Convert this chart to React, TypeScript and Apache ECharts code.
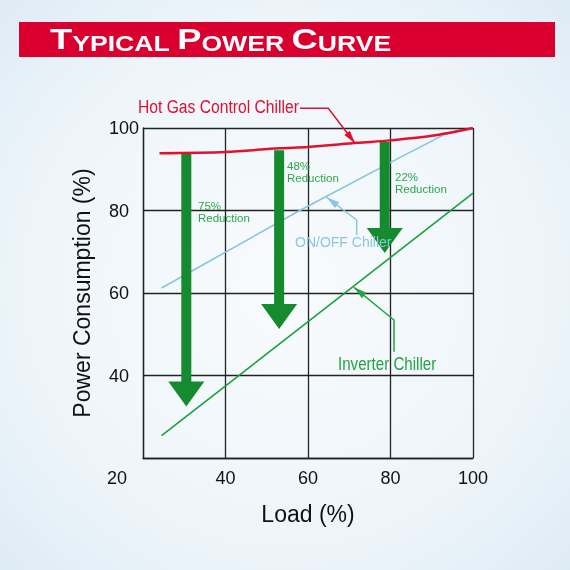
import { useEffect, useRef } from 'react';
import * as echarts from 'echarts';

// x: load (%), y: power consumption (%)
const loadTicks = [20, 40, 60, 80, 100];
const hotGasCurve = [
  [24, 93.9], [40, 94.2], [53, 95.1], [60, 95.4], [72, 96.4], [80, 97.0], [90, 98.1], [100, 100],
];
const onOffLine = [[24.5, 61.2], [58, 80], [82, 92.7], [93, 98.4]];
const onOffTail = [[93, 98.4], [100, 100]];
const inverterLine = [[24.5, 25.4], [100, 84.2]];
// reduction arrows: load, from (hot gas curve), to (tip)
const reductionArrows = [
  [30.5, 93.9, 32.5],
  [53, 94.6, 51.3],
  [78.6, 96.6, 69.7],
];
const reductionLabels = ['75%\nReduction', '48%\nReduction', '22%\nReduction'];

const FONT = "'Liberation Sans', Arial, sans-serif";
const GRID = { left: 143, top: 128, width: 330, height: 330 };

// small triangle at the end of a leader line
function arrowHead(pts: number[][], len: number, half: number) {
  const [x1, y1] = pts[pts.length - 2];
  const [x2, y2] = pts[pts.length - 1];
  const d = Math.hypot(x2 - x1, y2 - y1);
  const ux = (x2 - x1) / d;
  const uy = (y2 - y1) / d;
  const bx = x2 - ux * len;
  const by = y2 - uy * len;
  return [
    [x2, y2],
    [bx - uy * half, by + ux * half],
    [bx + uy * half, by - ux * half],
  ];
}

function leader(pts: number[][], color: string) {
  return [
    { type: 'polyline', shape: { points: pts }, style: { stroke: color, lineWidth: 1.5, fill: null }, z: 20 },
    { type: 'polygon', shape: { points: arrowHead(pts, 13, 3.5) }, style: { fill: color }, z: 20 },
  ];
}

export default function App() {
  const chartRef = useRef<HTMLDivElement>(null);

  useEffect(() => {
    if (!chartRef.current) return;
    const chart = echarts.init(chartRef.current, null, { renderer: 'svg' });

    const redLeader = [[300, 108.3], [328.3, 108.3], [355, 143.3]];
    const blueLeader = [[356.7, 235], [356.7, 220], [326.7, 197.3]];
    const greenLeader = [[394, 351.7], [394, 320], [354, 287.3]];
    const labelPos = [[198, 200], [287, 160], [395, 171]];

    const option: any = {
      animation: false,
      backgroundColor: new echarts.graphic.RadialGradient(0.5, 0.5, 0.75, [
        { offset: 0, color: '#f8fbfd' },
        { offset: 0.6, color: '#eef5fa' },
        { offset: 1, color: '#dbeaf5' },
      ]),
      grid: GRID,
      xAxis: {
        type: 'value',
        min: 20,
        max: 100,
        interval: 20,
        axisLine: { lineStyle: { color: '#222', width: 1.3 } },
        axisTick: { show: false },
        splitLine: { lineStyle: { color: '#222', width: 1.3 } },
        axisLabel: {
          margin: 11,
          fontSize: 18,
          color: '#111',
          fontFamily: FONT,
          formatter: (v: number) => (v === loadTicks[0] ? '{c|' + v + '}' : String(v)),
          rich: { c: { fontSize: 18, color: '#111', fontFamily: FONT, padding: [0, 52, 0, 0] } },
        },
        name: 'Load (%)',
        nameLocation: 'middle',
        nameGap: 44,
        nameTextStyle: { fontSize: 23, color: '#111', fontFamily: FONT },
      },
      yAxis: {
        type: 'value',
        min: 20,
        max: 100,
        interval: 20,
        axisLine: { lineStyle: { color: '#222', width: 1.3 } },
        axisTick: { show: false },
        splitLine: { lineStyle: { color: '#222', width: 1.3 } },
        axisLabel: {
          align: 'left',
          margin: 34,
          fontSize: 18,
          color: '#111',
          fontFamily: FONT,
          formatter: (v: number) => (v === 20 ? '' : String(v)),
        },
        name: 'Power Consumption (%)',
        nameLocation: 'middle',
        nameGap: 50,
        nameTextStyle: { fontSize: 23, color: '#111', fontFamily: FONT },
      },
      series: [
        {
          name: 'ON/OFF Chiller',
          type: 'line',
          data: onOffLine,
          showSymbol: false,
          lineStyle: { color: '#86c5dc', width: 1.6 },
          z: 2,
        },
        {
          name: 'tail',
          type: 'line',
          data: onOffTail,
          showSymbol: false,
          lineStyle: { color: '#7a8a94', width: 1.2 },
          z: 2,
        },
        {
          name: 'Reduction',
          type: 'custom',
          data: reductionArrows,
          encode: { x: 0, y: [1, 2] },
          clip: false,
          z: 3,
          renderItem: (_params: any, api: any) => {
            const top = api.coord([api.value(0), api.value(1)]);
            const tip = api.coord([api.value(0), api.value(2)]);
            const x = top[0];
            const sw = 5;
            const hw = 18;
            const hh = 25;
            return {
              type: 'polygon',
              shape: {
                points: [
                  [x - sw, top[1]], [x + sw, top[1]], [x + sw, tip[1] - hh], [x + hw, tip[1] - hh],
                  [x, tip[1]], [x - hw, tip[1] - hh], [x - sw, tip[1] - hh],
                ],
              },
              style: { fill: '#168a2f' },
            };
          },
        },
        {
          name: 'Inverter Chiller',
          type: 'line',
          data: inverterLine,
          showSymbol: false,
          lineStyle: { color: '#1c9f3d', width: 1.6 },
          z: 4,
        },
        {
          name: 'Hot Gas Control Chiller',
          type: 'line',
          data: hotGasCurve,
          smooth: 0.3,
          showSymbol: false,
          lineStyle: { color: '#e2122f', width: 2.5 },
          z: 5,
        },
      ],
      graphic: [
        // title banner
        { type: 'rect', shape: { x: 19, y: 22, width: 536, height: 35 }, style: { fill: '#d9002f' }, z: 10 },
        {
          type: 'text',
          x: 50,
          y: 54,
          scaleX: 1.21,
          z: 11,
          style: {
            text: '{b|T}{s|YPICAL }{b|P}{s|OWER }{b|C}{s|URVE}',
            textVerticalAlign: 'bottom',
            rich: {
              b: { fontSize: 30, fontWeight: 'bold', fill: '#fff', fontFamily: FONT, verticalAlign: 'bottom' },
              s: { fontSize: 22, fontWeight: 'bold', fill: '#fff', fontFamily: FONT, verticalAlign: 'bottom' },
            },
          },
        },
        // curve names
        {
          type: 'text', x: 138, y: 107, scaleX: 0.87, z: 20,
          style: { text: 'Hot Gas Control Chiller', fill: '#e0102f', fontSize: 18, fontFamily: FONT, textVerticalAlign: 'middle' },
        },
        {
          type: 'text', x: 295, y: 242, z: 20,
          style: { text: 'ON/OFF Chiller', fill: '#8cc6dd', fontSize: 14, fontFamily: FONT, textVerticalAlign: 'middle' },
        },
        {
          type: 'text', x: 338, y: 364, scaleX: 0.84, z: 20,
          style: { text: 'Inverter Chiller', fill: '#22a444', fontSize: 18, fontFamily: FONT, textVerticalAlign: 'middle' },
        },
        ...leader(redLeader, '#e0102f'),
        ...leader(blueLeader, '#8cc6dd'),
        ...leader(greenLeader, '#22a444'),
        ...reductionLabels.map((t, i) => ({
          type: 'text',
          x: labelPos[i][0],
          y: labelPos[i][1],
          z: 20,
          style: { text: t, fill: '#2ea64d', fontSize: 11.5, lineHeight: 12, fontFamily: FONT },
        })),
      ],
    };

    chart.setOption(option);
    return () => {
      chart.dispose();
    };
  }, []);

  return (
    <div
      ref={chartRef}
      style={{ position: 'fixed', left: 0, top: 0, width: 570, height: 570 }}
    />
  );
}
